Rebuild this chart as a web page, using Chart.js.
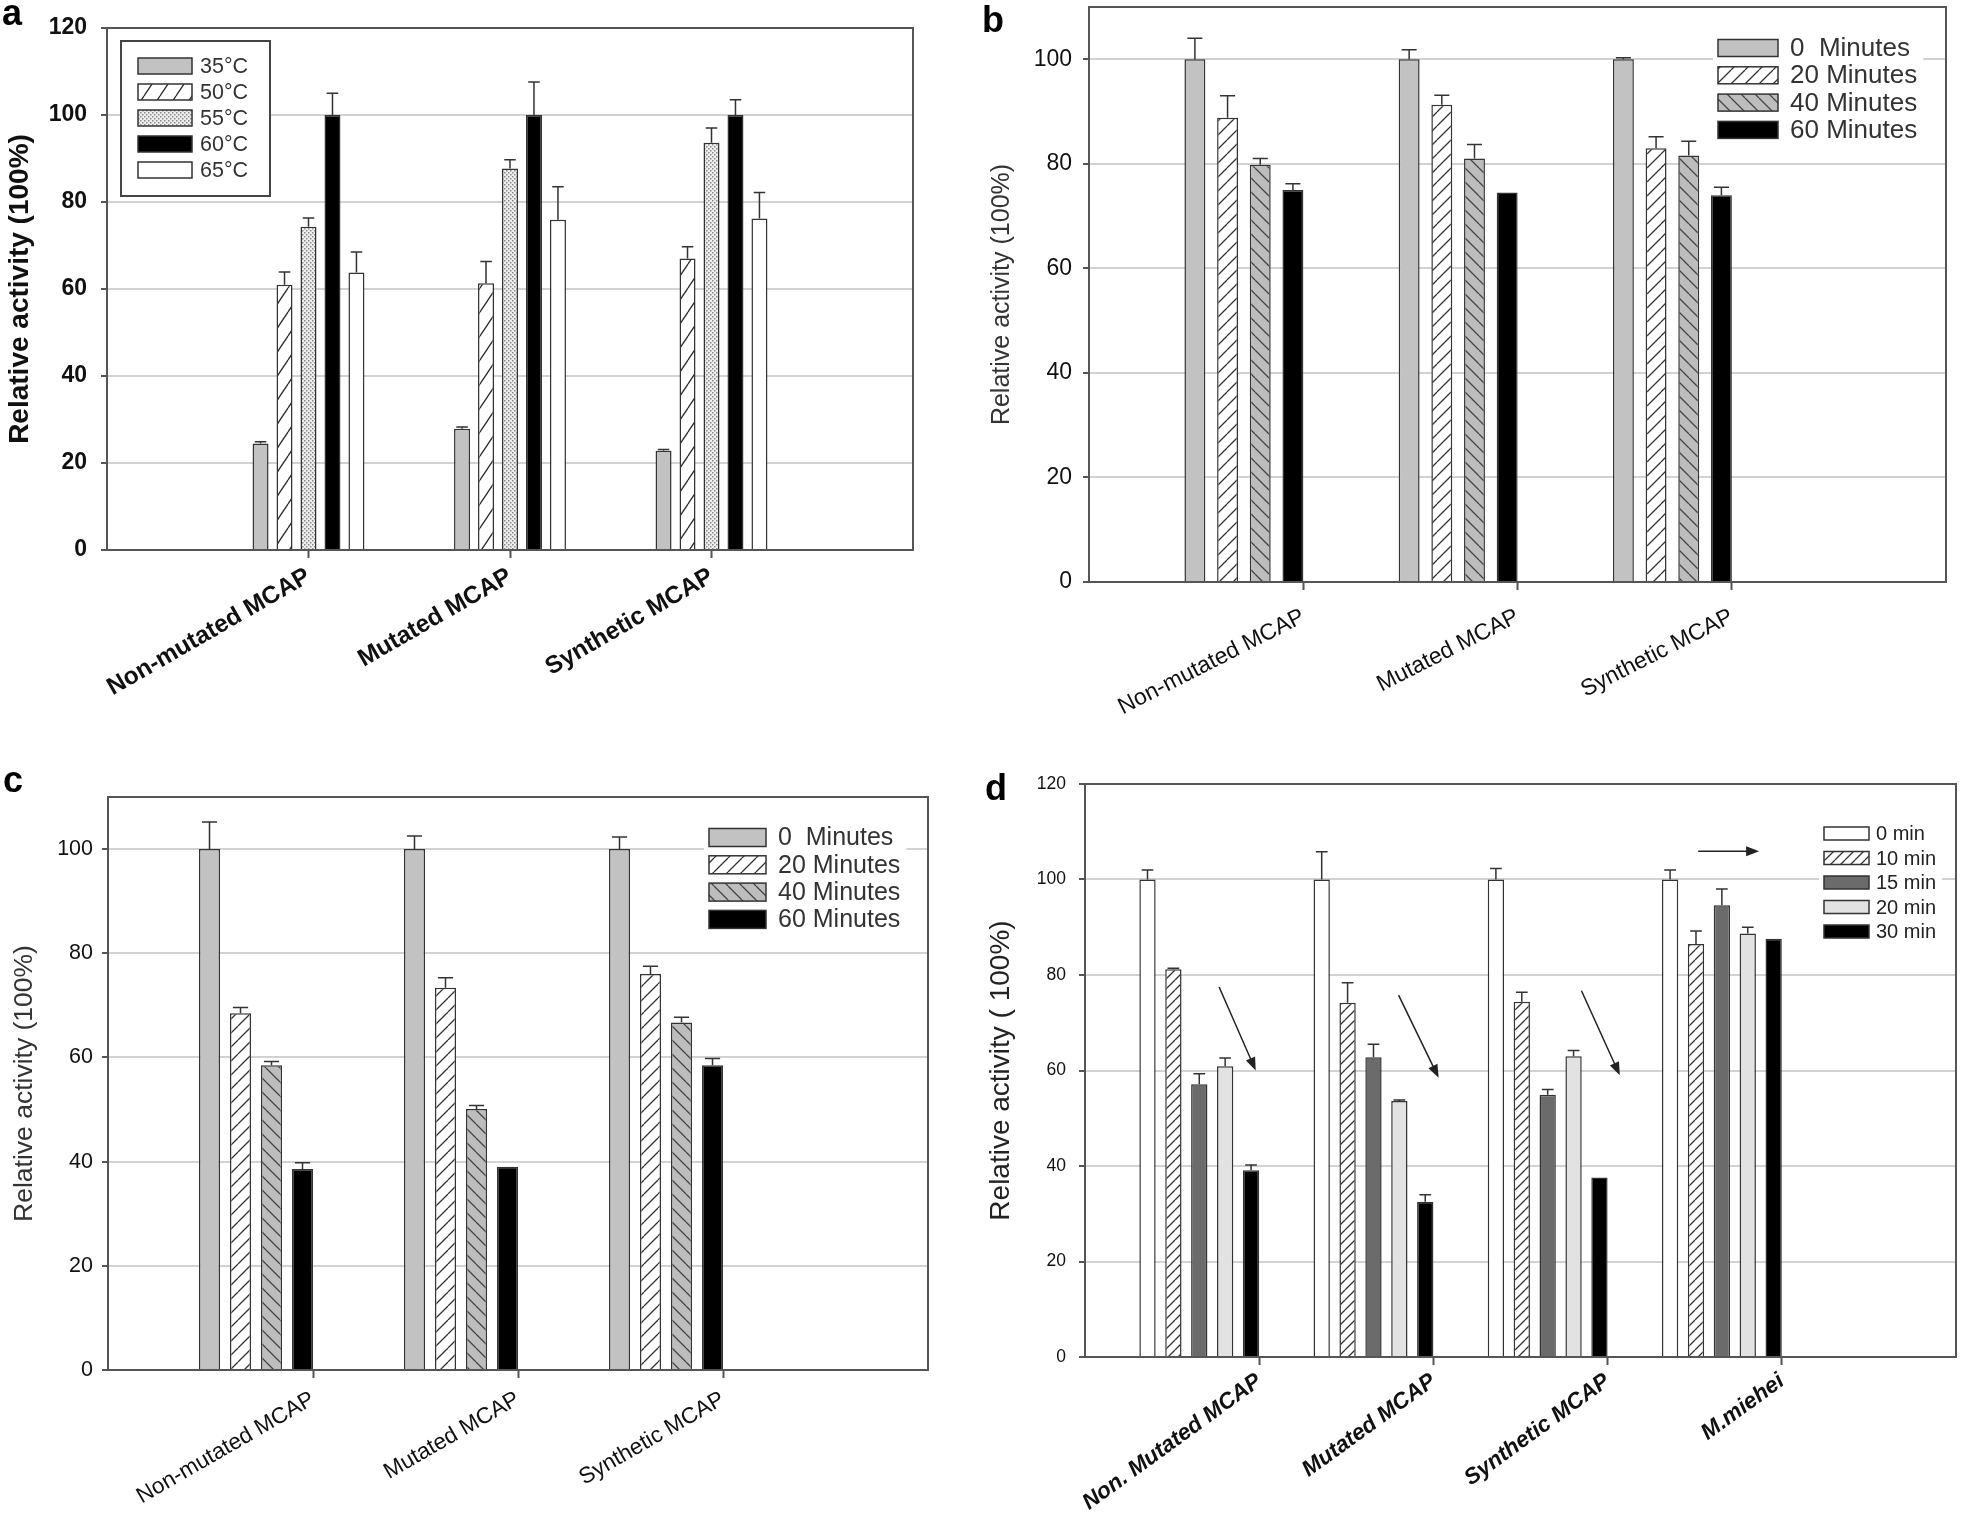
<!DOCTYPE html>
<html>
<head>
<meta charset="utf-8">
<script src="https://cdn.jsdelivr.net/npm/chart.js@4.4.1/dist/chart.umd.min.js"></script>
<style>
  html, body { margin: 0; padding: 0; background: #fff; }
  body { width: 1961px; height: 1519px; position: relative; overflow: hidden; }
  canvas { position: absolute; }
</style>
</head>
<body>
<canvas id="chartA" width="975" height="760" style="left:0;top:0;width:975px;height:760px"></canvas>
<canvas id="chartB" width="986" height="760" style="left:975px;top:0;width:986px;height:760px"></canvas>
<canvas id="chartC" width="975" height="759" style="left:0;top:760px;width:975px;height:759px"></canvas>
<canvas id="chartD" width="986" height="759" style="left:975px;top:760px;width:986px;height:759px"></canvas>
<script>
// ---- panel a : temperature ----
var groupsA = ['Non-mutated MCAP', 'Mutated MCAP', 'Synthetic MCAP'];
var seriesA = ['35°C', '50°C', '55°C', '60°C', '65°C'];
var temp35 = [24.5, 27.9, 22.8];
var temp50 = [61.0, 61.3, 67.0];
var temp55 = [74.3, 87.7, 93.6];
var temp60 = [100, 100, 100];
var temp65 = [63.8, 75.9, 76.2];
var err35 = [0.4, 0.4, 0.3];
var err50 = [2.9, 5.0, 2.7];
var err55 = [2.0, 2.0, 3.4];
var err60 = [5.0, 7.6, 3.5];
var err65 = [4.7, 7.6, 6.0];

// ---- panel b ----
var groupsB = ['Non-mutated MCAP', 'Mutated MCAP', 'Synthetic MCAP'];
var seriesB = ['0  Minutes', '20 Minutes', '40 Minutes', '60 Minutes'];
var b0 = [100, 100, 100];
var b20 = [88.8, 91.3, 83.0];
var b40 = [79.8, 81.0, 81.6];
var b60 = [75.0, 74.5, 74.0];
var errB0 = [4.0, 1.8, 0.3];
var errB20 = [4.2, 1.8, 2.2];
var errB40 = [1.2, 2.7, 2.7];
var errB60 = [1.2, 0, 1.5];

// ---- panel c ----
var groupsC = ['Non-mutated MCAP', 'Mutated MCAP', 'Synthetic MCAP'];
var seriesC = ['0  Minutes', '20 Minutes', '40 Minutes', '60 Minutes'];
var c0 = [100, 100, 100];
var c20 = [68.5, 73.4, 76.0];
var c40 = [58.5, 50.1, 66.7];
var c60 = [38.6, 39.0, 58.5];
var errC0 = [5.2, 2.5, 2.3];
var errC20 = [1.1, 1.9, 1.5];
var errC40 = [0.7, 0.7, 1.0];
var errC60 = [1.2, 0, 1.3];

// ---- panel d ----
var groupsD = ['Non. Mutated MCAP', 'Mutated MCAP', 'Synthetic MCAP', 'M.miehei'];
var seriesD = ['0 min', '10 min', '15 min', '20 min', '30 min'];
var d0 = [100, 100, 100, 100];
var d10 = [81.2, 74.2, 74.4, 86.5];
var d15 = [57.1, 62.8, 54.9, 94.6];
var d20 = [60.9, 53.6, 63.0, 88.7];
var d30 = [39.1, 32.5, 37.6, 87.6];
var errD0 = [2.0, 5.8, 2.3, 2.0];
var errD10 = [0.2, 4.2, 2.0, 2.7];
var errD15 = [2.2, 2.7, 1.1, 3.4];
var errD20 = [1.7, 0.2, 1.2, 1.3];
var errD30 = [1.1, 1.5, 0, 0];
// arrows in data units: [x1, y1, x2, y2]
var arrowsD = [[0.77, 77.5, 0.98, 60], [1.8, 75.8, 2.03, 58.5], [2.85, 76.7, 3.07, 59], [3.52, 105.9, 3.87, 105.9]];

Chart.defaults.font.family = "'Liberation Sans', Arial, sans-serif";

function hatch(bg, fg, w, h, dir, lw) {
  var c = document.createElement('canvas');
  c.width = w; c.height = h;
  var g = c.getContext('2d');
  g.fillStyle = bg; g.fillRect(0, 0, w, h);
  g.strokeStyle = fg; g.lineWidth = lw;
  g.beginPath();
  for (var k = -1; k <= 1; k++) {
    if (dir === '/') { g.moveTo(k * w, h); g.lineTo(k * w + w, 0); }
    else { g.moveTo(k * w, 0); g.lineTo(k * w + w, h); }
  }
  g.stroke();
  return g.createPattern(c, 'repeat');
}

function dots(bg, fg) {
  var c = document.createElement('canvas');
  c.width = 4; c.height = 4;
  var g = c.getContext('2d');
  g.fillStyle = bg; g.fillRect(0, 0, 4, 4);
  g.fillStyle = fg;
  g.fillRect(0, 0, 1.5, 1.5);
  g.fillRect(2, 2, 1.5, 1.5);
  return g.createPattern(c, 'repeat');
}

var extras = {
  id: 'extras',
  afterDatasetsDraw: function (chart) {
    var o = chart.options.plugins.extras;
    var ctx = chart.ctx, ys = chart.scales.y, xs = chart.scales.x, area = chart.chartArea;
    ctx.save();
    // error bars, upward only
    chart.data.datasets.forEach(function (ds, k) {
      var meta = chart.getDatasetMeta(k);
      meta.data.forEach(function (bar, i) {
        var e = ds.err[i];
        if (!e) return;
        var top = ys.getPixelForValue(ds.data[i].y + e);
        var half = bar.width * 0.36;
        ctx.strokeStyle = '#333';
        ctx.lineWidth = 1.5;
        ctx.beginPath();
        ctx.moveTo(bar.x, bar.y);
        ctx.lineTo(bar.x, top);
        ctx.moveTo(bar.x - half, top);
        ctx.lineTo(bar.x + half, top);
        ctx.stroke();
      });
    });
    // arrows
    (o.arrows || []).forEach(function (a) {
      var x1 = xs.getPixelForValue(a[0]), y1 = ys.getPixelForValue(a[1]);
      var x2 = xs.getPixelForValue(a[2]), y2 = ys.getPixelForValue(a[3]);
      var ang = Math.atan2(y2 - y1, x2 - x1), L = 13, w = 5;
      ctx.strokeStyle = '#222'; ctx.fillStyle = '#222'; ctx.lineWidth = 1.5;
      ctx.beginPath();
      ctx.moveTo(x1, y1);
      ctx.lineTo(x2 - Math.cos(ang) * L * 0.8, y2 - Math.sin(ang) * L * 0.8);
      ctx.stroke();
      ctx.beginPath();
      ctx.moveTo(x2, y2);
      ctx.lineTo(x2 - Math.cos(ang) * L - Math.sin(ang) * w, y2 - Math.sin(ang) * L + Math.cos(ang) * w);
      ctx.lineTo(x2 - Math.cos(ang) * L + Math.sin(ang) * w, y2 - Math.sin(ang) * L - Math.cos(ang) * w);
      ctx.closePath();
      ctx.fill();
    });
    // frame
    ctx.strokeStyle = '#555';
    ctx.lineWidth = 2;
    ctx.strokeRect(area.left, area.top, area.right - area.left, area.bottom - area.top);
    // legend
    var lg = o.legend;
    ctx.font = lg.font;
    var maxW = 0;
    chart.data.datasets.forEach(function (ds) { maxW = Math.max(maxW, ctx.measureText(ds.label).width); });
    var n = chart.data.datasets.length;
    var bx0 = lg.box ? lg.box[0] : lg.sx0 - 5;
    var by0 = lg.box ? lg.box[1] : lg.y0 - lg.sh / 2 - 5;
    var bx1 = lg.box ? lg.box[2] : lg.tx + maxW + 6;
    var by1 = lg.box ? lg.box[3] : lg.y0 + (n - 1) * lg.step + lg.sh / 2 + 5;
    ctx.fillStyle = '#fff';
    ctx.fillRect(bx0, by0, bx1 - bx0, by1 - by0);
    if (lg.box) {
      ctx.strokeStyle = '#444'; ctx.lineWidth = 2;
      ctx.strokeRect(bx0, by0, bx1 - bx0, by1 - by0);
    }
    chart.data.datasets.forEach(function (ds, k) {
      var cy = lg.y0 + k * lg.step;
      ctx.fillStyle = ds.backgroundColor;
      ctx.fillRect(lg.sx0, cy - lg.sh / 2, lg.sx1 - lg.sx0, lg.sh);
      ctx.strokeStyle = '#333'; ctx.lineWidth = 1.5;
      ctx.strokeRect(lg.sx0, cy - lg.sh / 2, lg.sx1 - lg.sx0, lg.sh);
      ctx.fillStyle = lg.color;
      ctx.textAlign = 'left';
      ctx.textBaseline = 'middle';
      ctx.fillText(ds.label, lg.tx, cy + 1);
    });
    // panel letter
    ctx.font = 'bold 36px "Liberation Sans", Arial, sans-serif';
    ctx.fillStyle = '#000';
    ctx.textBaseline = 'alphabetic';
    ctx.fillText(o.letter[0], o.letter[1], o.letter[2]);
    ctx.restore();
  }
};

function buildPanel(p) {
  var canvas = document.getElementById(p.id);
  var W = canvas.width, H = canvas.height;
  var xAxisH = H - p.area.bottom - 4;
  var groupX = p.ticksAt.map(function (t) { return t - p.shift; });
  var datasets = p.series.map(function (name, k) {
    return {
      label: name,
      data: p.values[k].map(function (v, i) { return { x: groupX[i], y: v }; }),
      err: p.errors[k],
      backgroundColor: p.fills[k],
      borderColor: '#333',
      borderWidth: 1.5,
      borderSkipped: 'bottom',
      categoryPercentage: p.catPct,
      barPercentage: p.barPct
    };
  });
  return new Chart(canvas, {
    type: 'bar',
    data: { datasets: datasets },
    options: {
      responsive: false,
      animation: false,
      layout: { padding: { left: 0, top: p.area.top, right: W - p.area.right, bottom: 4 } },
      plugins: {
        legend: { display: false },
        tooltip: { enabled: false },
        extras: { legend: p.legend, letter: p.letter, arrows: p.arrows }
      },
      scales: {
        x: {
          type: 'linear',
          min: 0,
          max: p.xMax,
          offset: false,
          afterBuildTicks: function (s) {
            s.ticks = p.ticksAt.map(function (v) { return { value: v }; });
          },
          afterFit: function (s) {
            s.height = xAxisH;
            s.paddingLeft = 0; s.paddingRight = 0;
          },
          grid: { display: true, offset: false, drawOnChartArea: false, drawTicks: true, tickLength: 8, tickColor: '#555', tickWidth: 2 },
          border: { display: true, color: '#555', width: 2 },
          ticks: {
            autoSkip: false,
            minRotation: p.rot,
            maxRotation: p.rot,
            padding: p.labelPad,
            font: p.labelFont,
            color: '#111',
            callback: function (v, i) { return p.groups[i]; }
          }
        },
        y: {
          min: 0,
          max: p.yMax,
          afterFit: function (s) {
            s.width = p.area.left;
            s.paddingTop = 0; s.paddingBottom = 0;
          },
          ticks: { stepSize: 20, includeBounds: false, font: p.tickFont, color: '#111', padding: p.tickPad },
          grid: { color: '#d2d2d2', lineWidth: 2, tickColor: '#555', tickLength: 6, tickWidth: 2 },
          border: { display: true, color: '#555', width: 2 },
          title: {
            display: true,
            text: p.title,
            font: p.titleFont,
            color: p.titleColor,
            padding: { top: p.titleX - p.titleFont.size / 2, bottom: 0 }
          }
        }
      }
    },
    plugins: [extras]
  });
}

var gray = '#c2c2c2';

buildPanel({
  id: 'chartA',
  groups: groupsA, series: seriesA,
  values: [temp35, temp50, temp55, temp60, temp65],
  errors: [err35, err50, err55, err60, err65],
  fills: [gray, hatch('#fff', '#333', 16, 24, '/', 1.4), dots('#eeeeee', '#8a8a8a'), '#000', '#fff'],
  area: { left: 107, top: 28, right: 913, bottom: 550 },
  yMax: 120, xMax: 4, ticksAt: [1, 2, 3], shift: 0, catPct: 0.595, barPct: 0.667,
  tickFont: { size: 23, weight: 'bold' }, tickPad: 14,
  labelFont: { size: 24.5, weight: 'bold' }, rot: 30, labelPad: 4,
  title: 'Relative activity (100%)', titleFont: { size: 28, weight: 'bold', lineHeight: 1 }, titleX: 20, titleColor: '#111',
  legend: { box: [121, 41, 270, 196], sx0: 138, sx1: 192, sh: 16, y0: 66, step: 26, tx: 200, font: '21.5px "Liberation Sans", Arial, sans-serif', color: '#333' },
  letter: ['a', 2, 25]
});

buildPanel({
  id: 'chartB',
  groups: groupsB, series: seriesB,
  values: [b0, b20, b40, b60],
  errors: [errB0, errB20, errB40, errB60],
  fills: [gray, hatch('#fff', '#333', 14, 14, '/', 1.3), hatch('#bdbdbd', '#444', 14, 14, '\\', 1.3), '#000'],
  area: { left: 114, top: 7, right: 971, bottom: 582 },
  yMax: 110, xMax: 4, ticksAt: [1, 2, 3], shift: 0.277, catPct: 0.61, barPct: 0.64,
  tickFont: { size: 23 }, tickPad: 11,
  labelFont: { size: 23 }, rot: 27, labelPad: 13,
  title: 'Relative activity (100%)', titleFont: { size: 25, lineHeight: 1 }, titleX: 27, titleColor: '#333',
  legend: { sx0: 743, sx1: 803, sh: 17, y0: 48, step: 27.3, tx: 815, font: '26px "Liberation Sans", Arial, sans-serif', color: '#333' },
  letter: ['b', 7, 32]
});

buildPanel({
  id: 'chartC',
  groups: groupsC, series: seriesC,
  values: [c0, c20, c40, c60],
  errors: [errC0, errC20, errC40, errC60],
  fills: [gray, hatch('#fff', '#333', 14, 14, '/', 1.3), hatch('#bdbdbd', '#444', 14, 14, '\\', 1.3), '#000'],
  area: { left: 108, top: 37, right: 928, bottom: 610 },
  yMax: 110, xMax: 4, ticksAt: [1, 2, 3], shift: 0.278, catPct: 0.605, barPct: 0.68,
  tickFont: { size: 21.5 }, tickPad: 9,
  labelFont: { size: 22.5 }, rot: 30, labelPad: 8,
  title: 'Relative activity (100%)', titleFont: { size: 26.5, lineHeight: 1 }, titleX: 25, titleColor: '#333',
  legend: { sx0: 709, sx1: 766, sh: 18, y0: 77.5, step: 27.3, tx: 778, font: '25px "Liberation Sans", Arial, sans-serif', color: '#333' },
  letter: ['c', 3, 32]
});

buildPanel({
  id: 'chartD',
  groups: groupsD, series: seriesD,
  values: [d0, d10, d15, d20, d30],
  errors: [errD0, errD10, errD15, errD20, errD30],
  fills: ['#fff', hatch('#fff', '#333', 10, 10, '/', 1.3), '#6b6b6b', '#e2e2e2', '#000'],
  area: { left: 110, top: 24, right: 981, bottom: 597 },
  yMax: 120, xMax: 5, ticksAt: [1, 2, 3, 4], shift: 0.344, catPct: 0.743, barPct: 0.63,
  tickFont: { size: 17.5 }, tickPad: 13,
  labelFont: { size: 22.5, weight: 'bold', style: 'italic' }, rot: 36, labelPad: 3,
  title: 'Relative activity ( 100%)', titleFont: { size: 28, lineHeight: 1 }, titleX: 26.5, titleColor: '#222',
  legend: { sx0: 849, sx1: 894, sh: 13, y0: 73.5, step: 24.5, tx: 901, font: '20px "Liberation Sans", Arial, sans-serif', color: '#222' },
  letter: ['d', 10, 40],
  arrows: arrowsD
});
</script>
</body>
</html>
